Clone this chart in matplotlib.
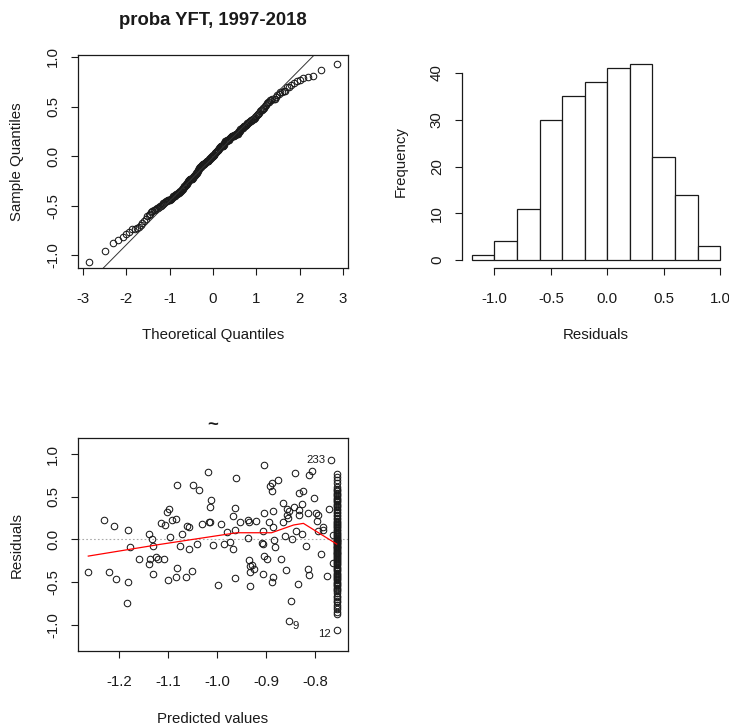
import numpy as np
import matplotlib
matplotlib.use("Agg")
import matplotlib.pyplot as plt
from matplotlib.ticker import FormatStrFormatter
from statistics import NormalDist

plt.rcParams['font.family'] = ['Liberation Sans', 'DejaVu Sans']
plt.rcParams['axes.unicode_minus'] = False

# residuals vs predicted values (points off the big column)
fit_spread = [-1.263, -1.231, -1.221, -1.210, -1.207, -1.182, -1.182, -1.184, -1.178, -1.159,
              -1.140, -1.140, -1.133, -1.130, -1.138, -1.130, -1.124, -1.121, -1.114, -1.107,
              -1.109, -1.103, -1.098, -1.096, -1.101, -1.092, -1.085, -1.081, -1.081, -1.083,
              -1.075, -1.072, -1.064, -1.062, -1.058, -1.058, -1.051, -1.049, -1.038, -1.042,
              -1.031, -1.019, -1.017, -1.015, -1.015, -1.012, -1.008, -0.998, -0.993, -0.986,
              -0.979, -0.974, -0.968, -0.963, -0.962, -0.964, -0.968, -0.964, -0.953, -0.938,
              -0.936, -0.938, -0.936, -0.933, -0.933, -0.932, -0.928, -0.925, -0.920, -0.909,
              -0.907, -0.904, -0.904, -0.906, -0.907, -0.904, -0.898, -0.895, -0.892, -0.889,
              -0.889, -0.887, -0.887, -0.887, -0.889, -0.883, -0.882, -0.875, -0.870, -0.866,
              -0.866, -0.861, -0.859, -0.857, -0.857, -0.855, -0.853, -0.854, -0.850, -0.848,
              -0.844, -0.842, -0.839, -0.835, -0.833, -0.833, -0.833, -0.827, -0.826, -0.824,
              -0.819, -0.814, -0.814, -0.813, -0.813, -0.807, -0.802, -0.798, -0.796, -0.795,
              -0.794, -0.788, -0.784, -0.785, -0.776, -0.771, -0.767, -0.764, -0.763]
res_spread = [-0.384, 0.227, -0.384, 0.161, -0.463, 0.106, -0.506, -0.741, -0.086, -0.231,
              0.063, -0.286, 0.008, -0.078, -0.227, -0.404, -0.204, -0.227, 0.196, 0.165,
              -0.231, 0.318, 0.353, 0.031, -0.471, 0.227, 0.239, 0.643, -0.333, -0.447,
              -0.078, 0.067, -0.447, 0.161, 0.149, -0.110, -0.373, 0.643, 0.576, -0.055,
              0.180, 0.796, 0.208, 0.204, 0.376, 0.463, -0.071, -0.537, 0.176, -0.059,
              0.090, -0.031, 0.271, 0.373, 0.718, 0.110, -0.110, -0.451, 0.204, 0.224,
              0.208, 0.012, -0.243, -0.310, -0.380, -0.549, -0.302, -0.349, 0.212, -0.047,
              -0.051, 0.871, 0.306, 0.098, -0.402, -0.192, -0.231, 0.204, 0.627, 0.659,
              0.573, 0.329, 0.149, -0.447, -0.502, -0.008, -0.086, 0.698, -0.231, 0.424,
              0.204, 0.043, -0.361, 0.361, 0.286, 0.255, 0.337, -0.957, -0.718, 0.004,
              0.384, 0.784, 0.102, -0.525, 0.549, 0.345, 0.286, 0.412, 0.063, 0.565,
              -0.078, 0.306, -0.345, -0.420, 0.757, 0.808, 0.486, 0.306, 0.220, 0.282,
              0.102, -0.173, 0.149, 0.106, -0.435, 0.353, 0.933, 0.047, -0.275]

# the many observations sharing the same prediction
fit_column = -0.756
res_column = [-1.067, -0.88, -0.85, -0.82, -0.79, -0.765, -0.74, -0.725, -0.70, -0.675, -0.66, -0.635, -0.61,
              -0.595, -0.58, -0.565, -0.55, -0.54, -0.525, -0.51, -0.495, -0.48, -0.47, -0.455, -0.44,
              -0.43, -0.415, -0.405,
              -0.39, -0.375, -0.36, -0.35, -0.335, -0.32, -0.305, -0.29, -0.28, -0.265, -0.25, -0.24,
              -0.225, -0.215, -0.205,
              -0.195, -0.185, -0.175, -0.165, -0.155, -0.145, -0.135, -0.125, -0.115, -0.105, -0.095,
              -0.085, -0.075, -0.065, -0.055, -0.045, -0.037, -0.03, -0.022, -0.015, -0.008, -0.003,
              0.005, 0.015, 0.03, 0.04, 0.055, 0.065, 0.08, 0.09, 0.105, 0.115, 0.13, 0.14, 0.155,
              0.165, 0.18, 0.19,
              0.205, 0.22, 0.24, 0.255, 0.27, 0.29, 0.31, 0.325, 0.345, 0.36, 0.375, 0.39,
              0.405, 0.42, 0.435, 0.45, 0.46, 0.475, 0.49, 0.505, 0.52, 0.535, 0.55, 0.565, 0.58, 0.595,
              0.62, 0.66, 0.70, 0.735, 0.77]

# smoother drawn in red
smooth_x = [-1.263, -1.117, -0.960, -0.889, -0.844, -0.824, -0.756]
smooth_y = [-0.196, -0.059, 0.078, 0.078, 0.169, 0.188, -0.055]

# labelled observations, biggest |residual| first
flag_names = ["12", "9", "233"]

# histogram of residuals
hist_breaks = [-1.2, -1.0, -0.8, -0.6, -0.4, -0.2, 0.0, 0.2, 0.4, 0.6, 0.8, 1.0]
hist_counts = [1, 4, 11, 30, 35, 38, 41, 42, 22, 14, 3]

fitted = np.array(fit_spread + [fit_column] * len(res_column))
resid = np.array(res_spread + res_column)

W, H = 729, 725
fig = plt.figure(figsize=(W / 100, H / 100), dpi=100)


def box(x0, y0, x1, y1):
    # pixel box -> figure fraction rect
    return [x0 / W, 1 - y1 / H, (x1 - x0) / W, (y1 - y0) / H]


FS = 10.8
ink = '#1a1a1a'


def style(ax):
    ax.tick_params(direction='out', length=5, width=0.8, labelsize=FS, colors=ink)
    ax.tick_params(axis='x', pad=12)
    ax.tick_params(axis='y', pad=8, labelrotation=90)
    for lab in ax.get_yticklabels():
        lab.set_va('center')
    for s in ax.spines.values():
        s.set_linewidth(0.9)
        s.set_color(ink)


# --- Q-Q plot
ax1 = fig.add_axes(box(78, 55, 348, 268))
n = len(resid)
nd = NormalDist()
theo = np.array([nd.inv_cdf((i + 0.5) / n) for i in range(n)])
samp = np.sort(resid)
ax1.plot(theo, samp, 'o', mfc='none', mec=ink, ms=4.7, mew=0.75)
q1, q3 = np.quantile(resid, [0.25, 0.75])
z1, z3 = nd.inv_cdf(0.25), nd.inv_cdf(0.75)
slope = (q3 - q1) / (z3 - z1)
ax1.axline((z1, q1), slope=slope, color='#333333', lw=0.7)
ax1.set_xlim(-3.115, 3.115)
ax1.set_ylim(-1.13, 1.02)
ax1.set_xticks([-3, -2, -1, 0, 1, 2, 3])
ax1.set_yticks([-1.0, -0.5, 0.0, 0.5, 1.0])
ax1.yaxis.set_major_formatter(FormatStrFormatter('%.1f'))
ax1.set_xlabel('Theoretical Quantiles', fontsize=FS, labelpad=16, color=ink)
ax1.set_ylabel('Sample Quantiles', fontsize=FS, labelpad=16, color=ink)
ax1.set_title('proba YFT, 1997-2018', fontsize=13.3, fontweight='bold', pad=21.5, color=ink)
style(ax1)

# --- histogram
ax2 = fig.add_axes(box(462, 55.8, 730, 268))
edges = np.array(hist_breaks)
ax2.bar(edges[:-1], hist_counts, width=np.diff(edges), align='edge',
        facecolor='white', edgecolor=ink, linewidth=0.9)
ax2.set_xlim(-1.288, 1.088)
ax2.set_ylim(-1.68, 43.68)
ax2.set_xticks([-1.0, -0.5, 0.0, 0.5, 1.0])
ax2.set_yticks([0, 10, 20, 30, 40])
ax2.xaxis.set_major_formatter(FormatStrFormatter('%.1f'))
for side in ['top', 'right']:
    ax2.spines[side].set_visible(False)
ax2.spines['bottom'].set_bounds(-1.0, 1.0)
ax2.spines['left'].set_bounds(0, 40)
ax2.set_xlabel('Residuals', fontsize=FS, labelpad=16, color=ink)
ax2.set_ylabel('Frequency', fontsize=FS, labelpad=16, color=ink)
style(ax2)

# --- residuals vs predicted
ax3 = fig.add_axes(box(78, 438, 348, 651))
ax3.axhline(0, color='#aaaaaa', lw=0.8, ls=(0, (1.5, 2)))
ax3.plot(fitted, resid, 'o', mfc='none', mec=ink, ms=4.7, mew=0.75)
ax3.plot(smooth_x, smooth_y, color='red', lw=0.9)
top = np.argsort(-np.abs(resid))[:3]
for idx, name in zip(top, flag_names):
    if name == "9":
        ax3.annotate(name, (fitted[idx], resid[idx]), xytext=(3, -4), textcoords='offset points',
                     ha='left', va='center', fontsize=8.2, color=ink)
    else:
        ax3.annotate(name, (fitted[idx], resid[idx]), xytext=(-4, -3 if name == "12" else 0),
                     textcoords='offset points', ha='right', va='center', fontsize=8.2, color=ink)
ax3.set_xlim(-1.284, -0.733)
ax3.set_ylim(-1.31, 1.19)
ax3.set_xticks([-1.2, -1.1, -1.0, -0.9, -0.8])
ax3.set_yticks([-1.0, -0.5, 0.0, 0.5, 1.0])
ax3.xaxis.set_major_formatter(FormatStrFormatter('%.1f'))
ax3.yaxis.set_major_formatter(FormatStrFormatter('%.1f'))
ax3.set_xlabel('Predicted values', fontsize=FS, labelpad=17, color=ink)
ax3.set_ylabel('Residuals', fontsize=FS, labelpad=16, color=ink)
ax3.set_title('~', fontsize=13.3, fontweight='bold', pad=6, color=ink)
style(ax3)

fig.savefig('out.png', dpi=100)
